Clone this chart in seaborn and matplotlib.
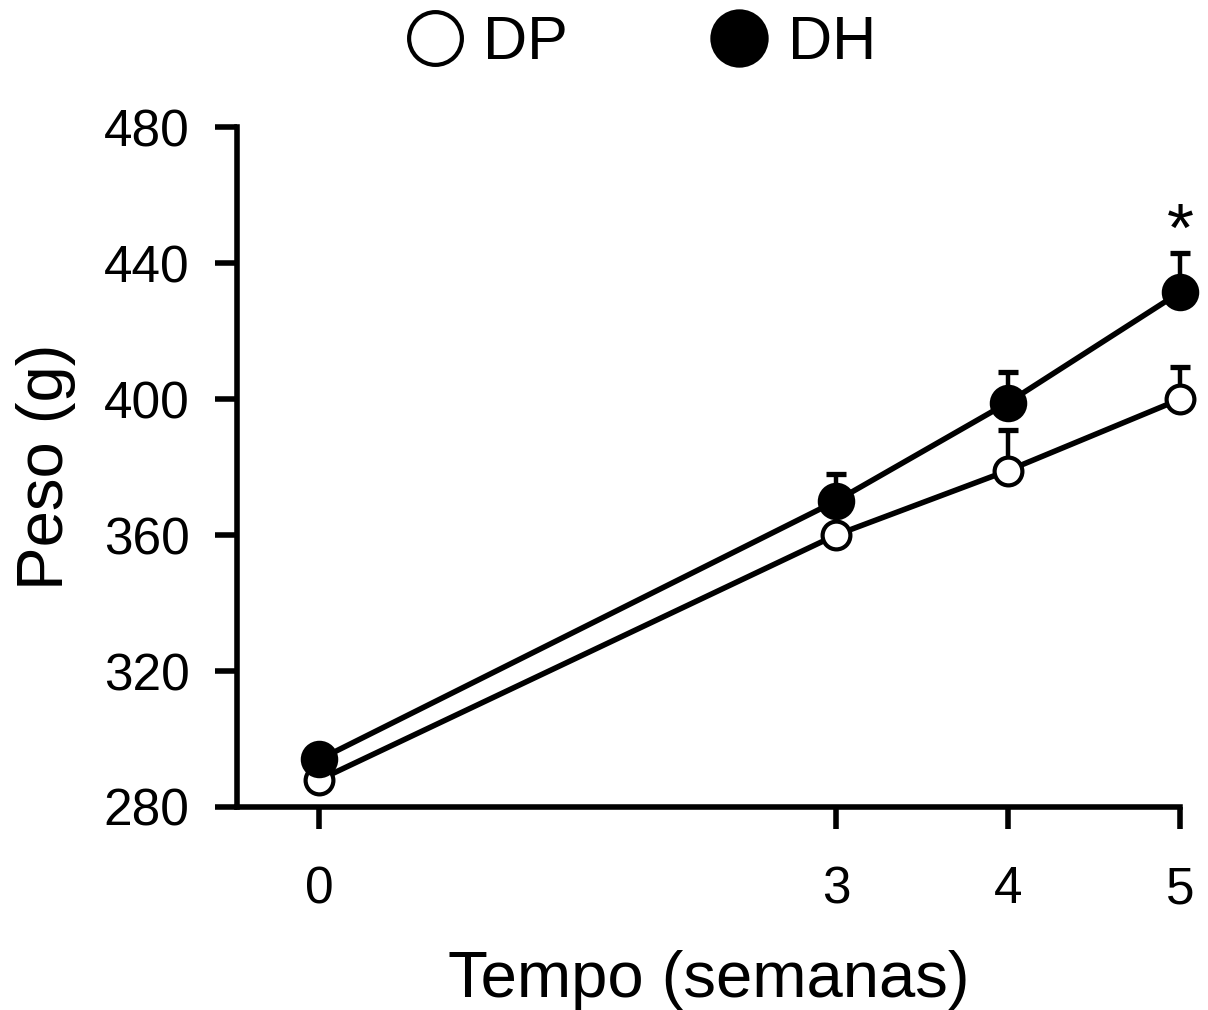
import matplotlib
matplotlib.use("Agg")
import matplotlib.pyplot as plt
import seaborn as sns
from matplotlib.lines import Line2D

# weeks and mean body weight (g) per group
weeks = [0, 3, 4, 5]
dp_mean = [288, 360, 379, 400]
dh_mean = [294, 370, 399, 431.5]
# upper error (SEM) only
dp_err = [0, 0, 12, 9.5]
dh_err = [0, 8, 9, 11.5]

sns.set_style("ticks")
plt.rcParams['font.family'] = ['Liberation Sans', 'DejaVu Sans']
plt.rcParams['text.color'] = 'black'
plt.rcParams['axes.labelcolor'] = 'black'
plt.rcParams['xtick.color'] = 'black'
plt.rcParams['ytick.color'] = 'black'
plt.rcParams['axes.edgecolor'] = 'black'

fig = plt.figure(figsize=(12.08, 10.10), dpi=100)
ax = fig.add_axes([0.196, 0.201, 0.781, 0.673])

lw = 4.0
for mean, err, face, ms, z in [(dp_mean, dp_err, 'white', 20, 3),
                              (dh_mean, dh_err, 'black', 24, 5)]:
    ax.errorbar(weeks, mean, yerr=[[0] * len(err), err], fmt='none',
                ecolor='black', elinewidth=3.2, capsize=7, capthick=3.8,
                zorder=z - 1, clip_on=False)
    sns.lineplot(x=weeks, y=mean, color='black', lw=lw, marker='o',
                 markersize=ms, markerfacecolor=face, markeredgecolor='black',
                 markeredgewidth=3, ax=ax, zorder=z, clip_on=False,
                 legend=False)

ax.text(5, 449, '*', ha='center', va='center', fontsize=50)

ax.set_xlim(-0.48, 5)
ax.set_ylim(280, 480)
ax.set_xticks(weeks)
ax.set_yticks([280, 320, 360, 400, 440, 480])
sns.despine(ax=ax)
for s in ['left', 'bottom']:
    ax.spines[s].set_linewidth(lw)
ax.tick_params(axis='both', length=16, width=lw, labelsize=37, color='black')
ax.tick_params(axis='y', pad=18)
ax.tick_params(axis='x', pad=26)
ax.set_xlabel('Tempo (semanas)', fontsize=47, labelpad=26)
ax.set_ylabel('Peso (g)', fontsize=47, labelpad=20)

handles = [
    Line2D([], [], ls='none', marker='o', ms=38, mfc='white', mec='black', mew=3),
    Line2D([], [], ls='none', marker='o', ms=40, mfc='black', mec='black', mew=2),
]
fig.legend(handles, ['DP', 'DH'], ncol=2, frameon=False, fontsize=44,
           loc='center', bbox_to_anchor=(0.53, 0.957), handlelength=1.0,
           handletextpad=0.3, columnspacing=2.3)

fig.savefig('out.png', dpi=100)
